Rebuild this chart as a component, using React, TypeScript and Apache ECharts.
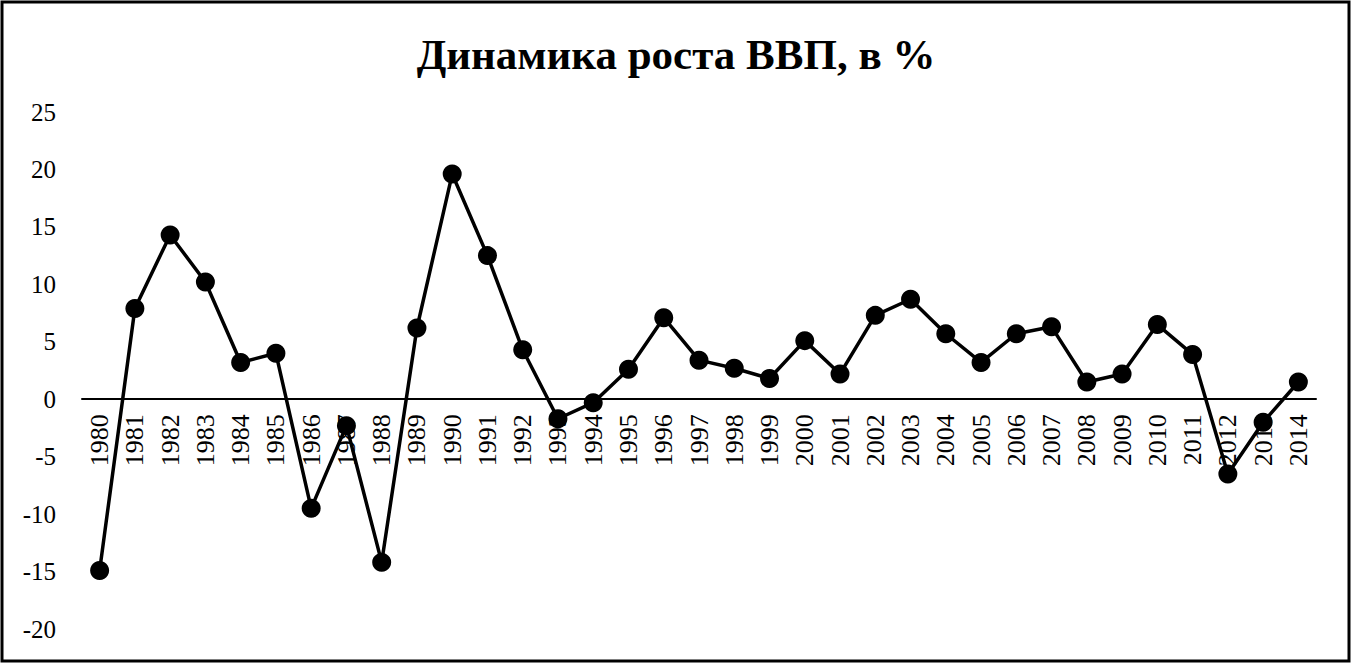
import React, { useEffect, useRef } from "react";
import * as echarts from "echarts";

const years = [
  "1980", "1981", "1982", "1983", "1984", "1985", "1986", "1987", "1988", "1989",
  "1990", "1991", "1992", "1993", "1994", "1995", "1996", "1997", "1998", "1999",
  "2000", "2001", "2002", "2003", "2004", "2005", "2006", "2007", "2008", "2009",
  "2010", "2011", "2012", "2013", "2014",
];
const gdpGrowth = [
  -14.9, 7.9, 14.3, 10.2, 3.2, 4.0, -9.5, -2.3, -14.2, 6.2,
  19.6, 12.5, 4.3, -1.7, -0.3, 2.6, 7.1, 3.4, 2.7, 1.8,
  5.1, 2.2, 7.3, 8.7, 5.7, 3.2, 5.7, 6.3, 1.5, 2.2,
  6.5, 3.9, -6.5, -2.0, 1.5,
];
const titleText = "Динамика роста ВВП, в %";
const yMin = -20;
const yMax = 25;
const yStep = 5;

export default function App() {
  const ref = useRef<HTMLDivElement>(null);
  useEffect(() => {
    if (!ref.current) return;
    const chart = echarts.init(ref.current, null, { renderer: "svg" });
    const font = "'Liberation Serif', 'Times New Roman', serif";
    const gridTop = 112;
    const gridBottom = 36;
    const plotH = 665 - gridTop - gridBottom;
    const zeroOffset = -(plotH * (0 - yMin)) / (yMax - yMin);
    chart.setOption({
      animation: false,
      backgroundColor: "#ffffff",
      title: {
        text: titleText,
        left: "center",
        top: 28,
        textStyle: { fontFamily: font, fontWeight: "bold", fontSize: 43, color: "#000" },
      },
      graphic: [
        {
          type: "rect",
          shape: { x: 2, y: 2, width: 1347, height: 659 },
          style: { fill: "none", stroke: "#000", lineWidth: 3 },
          z: 10,
        },
      ],
      grid: { left: 82, right: 36, top: gridTop, bottom: gridBottom, outerBoundsMode: "none", containLabel: false },
      xAxis: {
        type: "category",
        data: years,
        boundaryGap: true,
        offset: zeroOffset,
        axisLine: { onZero: false, lineStyle: { color: "#000", width: 2 } },
        axisTick: { show: false },
        axisLabel: {
          rotate: 90,
          interval: 0,
          margin: 15,
          fontFamily: font,
          fontSize: 26,
          color: "#000",
        },
        splitLine: { show: false },
      },
      yAxis: {
        type: "value",
        min: yMin,
        max: yMax,
        interval: yStep,
        axisLine: { show: false },
        axisTick: { show: false },
        splitLine: { show: false },
        axisLabel: { margin: 26, fontFamily: font, fontSize: 25, color: "#000" },
      },
      series: [
        {
          type: "line",
          data: gdpGrowth,
          symbol: "circle",
          symbolSize: 19,
          lineStyle: { color: "#000", width: 3.5 },
          itemStyle: { color: "#000" },
          z: 3,
        },
      ],
    });
    return () => chart.dispose();
  }, []);
  return (
    <div
      ref={ref}
      style={{ position: "absolute", left: 0, top: 0, width: 1352, height: 665, background: "#fff" }}
    />
  );
}
